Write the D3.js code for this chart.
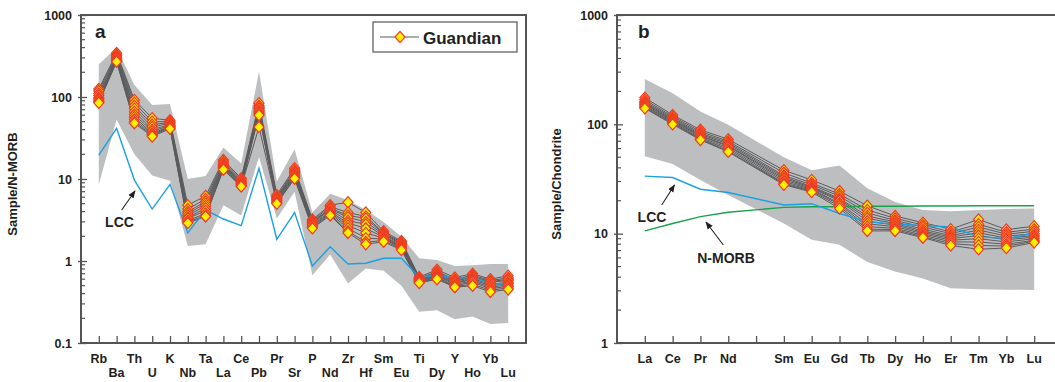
<!DOCTYPE html>
<html>
<head>
<meta charset="utf-8">
<script src="https://d3js.org/d3.v7.min.js"></script>
<style>
body { margin: 0; background: #fff; }
svg { display: block; font-family: "Liberation Sans", Arial, sans-serif; font-weight: bold; }
</style>
</head>
<body>
<script>
// ---- panel a : N-MORB normalised trace elements ----
var traceEls = ["Rb","Ba","Th","U","K","Nb","Ta","La","Ce","Pb","Pr","Sr","P","Nd","Zr","Hf","Sm","Eu","Ti","Dy","Y","Ho","Yb","Lu"];
var traceEnvUpper = [250,400,140,80,82,10,10.9,24.3,15.5,204,9.3,23,3.9,6.6,5.5,4.2,3.0,1.98,1.08,1.03,0.87,0.89,0.92,0.92];
var traceEnvLower = [8.5,53,20,11,9.5,1.52,1.6,4.8,3.6,18.6,3.3,7.0,0.67,1.2,0.53,0.81,0.76,0.5,0.24,0.25,0.195,0.21,0.17,0.175];
var traceLCC = [19.6,41.5,9.7,4.3,8.6,2.2,4.2,3.25,2.7,13.5,1.84,3.9,0.87,1.49,0.92,0.94,1.08,1.08,0.63,0.68,0.61,0.64,0.53,0.52];
var traceSamples = [
  [125,345,92,55,52,4.8,6.2,17,10.2,84,6.4,13.5,3.2,4.8,5.2,3.9,2.3,1.75,0.64,0.78,0.63,0.70,0.60,0.66],
  [118,330,85,50,50,4.3,5.7,16.2,9.8,78,6.1,12.8,3.1,4.6,3.9,3.5,2.2,1.7,0.62,0.74,0.60,0.67,0.58,0.62],
  [110,320,78,46,49,4.0,5.3,15.6,9.5,75,6.0,12.4,3.0,4.4,3.6,3.3,2.15,1.65,0.61,0.72,0.58,0.65,0.56,0.60],
  [104,310,72,43,48,3.8,5.0,15.0,9.2,72,5.8,12.0,2.95,4.3,3.4,3.0,2.1,1.6,0.60,0.70,0.57,0.63,0.55,0.58],
  [98,300,66,40,46,3.6,4.7,14.6,9.0,69,5.7,11.6,2.9,4.2,3.1,2.8,2.0,1.56,0.59,0.68,0.55,0.61,0.52,0.55],
  [95,295,61,38,45,3.4,4.4,14.2,8.8,66,5.5,11.2,2.8,4.0,2.9,2.5,1.95,1.52,0.58,0.66,0.54,0.59,0.50,0.53],
  [92,285,57,36,44,3.3,4.1,13.9,8.6,64,5.4,10.9,2.75,3.9,2.7,2.2,1.9,1.48,0.57,0.65,0.52,0.57,0.48,0.51],
  [89,280,53,35,43,3.1,3.8,13.6,8.4,62,5.2,10.6,2.65,3.8,2.5,1.9,1.85,1.44,0.56,0.63,0.50,0.55,0.46,0.49],
  [86,272,50,34,42,3.0,3.6,13.3,8.2,60,5.1,10.3,2.55,3.7,2.3,1.7,1.78,1.4,0.55,0.61,0.49,0.52,0.44,0.47],
  [85,270,48,33,41,2.9,3.5,13.0,8.1,43,5.0,10.1,2.5,3.6,2.2,1.6,1.72,1.36,0.54,0.60,0.48,0.50,0.42,0.45]
];
var traceTicks = [0.1,1,10,100,1000];

// ---- panel b : chondrite normalised REE ----
var reeAxis = ["La","Ce","Pr","Nd","Pm","Sm","Eu","Gd","Tb","Dy","Ho","Er","Tm","Yb","Lu"];
var reeEls = ["La","Ce","Pr","Nd","Sm","Eu","Gd","Tb","Dy","Ho","Er","Tm","Yb","Lu"];
var reeEnvUpper = [260,192,131,99,50,38,42,26,19.5,16.5,16,16.5,16.8,17];
var reeEnvLower = [51,43.4,31,22.6,12.4,8.8,7.9,5.5,4.5,3.9,3.16,3.1,3.07,3.05];
var reeLCC = [33.6,32.6,25.5,23.8,18.3,18.8,15.3,12.9,12.2,11.9,11.5,9.4,9.0,10.1];
var reeNMORB = [10.6,12.4,14.3,15.7,17.4,17.6,17.6,17.8,17.8,17.9,17.9,18,18,18];
var reeSamples = [
  [175,122,89,73,38,31,24.5,18,14.5,12.6,11,13.5,10.9,11.7],
  [168,118,86,70,36,29,23,16.5,13.8,12,10.4,12.2,10.3,11],
  [162,115,83,68,34,28,22,15.5,13.2,11.5,10,11.5,9.9,10.5],
  [158,112,81,66,33,27,21,14.5,12.8,11,9.6,10.8,9.5,10],
  [155,110,79,64,32,26.5,20.5,13.8,12.4,10.6,9.3,10.2,9.1,9.6],
  [152,108,78,63,31,26,20,13,12,10.3,9,9.6,8.8,9.3],
  [148,106,76,61,30,25.5,19,12.3,11.6,10,8.7,9,8.4,9],
  [145,104,74,59,29,25,18.5,11.6,11.2,9.7,8.4,8.4,8,8.7],
  [142,102,73,57,28.5,24.5,17.8,11,10.9,9.4,8.1,7.8,7.7,8.5],
  [140,100,72,56,28,24,17,10.6,10.6,9.2,7.8,7.2,7.4,8.3]
];
var reeTicks = [1,10,100,1000];

var W = 445, H = 328;
var ink = "#231f20", axisCol = "#555";
var diamond = "M0,-5.6L5,0L0,5.6L-5,0Z";

var svg = d3.select("body").append("svg").attr("width", 1055).attr("height", 382);

svg.append("defs").append("marker")
  .attr("id", "arrow").attr("viewBox", "0 0 10 10").attr("refX", 9).attr("refY", 5)
  .attr("markerWidth", 7).attr("markerHeight", 7).attr("orient", "auto")
  .append("path").attr("d", "M0,1L10,5L0,9Z").attr("fill", ink);

function drawPanel(left, o) {
  var g = svg.append("g").attr("transform", "translate(" + left + ",15)");
  var x = d3.scalePoint().domain(o.axisEls).range([0, W]).padding(1);
  var y = d3.scaleLog().domain(o.yDomain).range([H, 0]);

  // shaded envelope of other data
  var area = d3.area()
    .x(function(d, i) { return x(o.els[i]); })
    .y0(function(d, i) { return y(o.lower[i]); })
    .y1(function(d) { return y(d); });
  g.append("path").datum(o.upper).attr("d", area).attr("fill", "#bcbec0");

  var line = d3.line()
    .x(function(d, i) { return x(o.els[i]); })
    .y(function(d) { return y(d); });

  // sample lines
  g.selectAll(".sline").data(o.samples).join("path")
    .attr("d", line).attr("fill", "none").attr("stroke", "#5b5b5d").attr("stroke-width", 1);

  // reference curves
  o.refs.forEach(function(r) {
    g.append("path").datum(r.values).attr("d", line)
      .attr("fill", "none").attr("stroke", r.color).attr("stroke-width", 1.4);
  });

  // markers
  o.samples.forEach(function(s) {
    g.append("g").selectAll("path").data(s).join("path")
      .attr("d", diamond)
      .attr("transform", function(d, i) { return "translate(" + x(o.els[i]) + "," + y(d) + ")"; })
      .attr("fill", "#fff200").attr("stroke", "#ee3b24").attr("stroke-width", 1.2);
  });

  // frame
  g.append("rect").attr("width", W).attr("height", H)
    .attr("fill", "none").attr("stroke", axisCol).attr("stroke-width", 2);

  // x ticks (inward)
  var xa = g.append("g").attr("transform", "translate(0," + H + ")")
    .call(d3.axisBottom(x).tickSize(-7).tickSizeOuter(0).tickFormat(""));
  xa.select(".domain").remove();
  xa.selectAll("line").attr("stroke", axisCol).attr("stroke-width", 1.3);

  g.selectAll(".xl").data(o.axisEls).join("text")
    .attr("x", function(d) { return x(d); })
    .attr("y", function(d, i) { return H + (o.twoRows && i % 2 ? 34 : 19.5); })
    .attr("text-anchor", "middle").attr("font-size", 12.5).attr("fill", ink)
    .text(function(d) { return o.hide.indexOf(d) >= 0 ? "" : d; });

  // y axis: major ticks + labels
  var ya = g.append("g")
    .call(d3.axisLeft(y).tickValues(o.yTicks).tickSize(-6).tickSizeOuter(0).tickPadding(9)
      .tickFormat(function(d) { return d < 1 ? d3.format(".1f")(d) : d3.format("d")(d); }));
  ya.select(".domain").remove();
  ya.selectAll("line").attr("stroke", axisCol).attr("stroke-width", 1.3).attr("x1", 3);
  ya.selectAll("line").attr("x1", -3);
  ya.selectAll("text").attr("font-size", 12.5).attr("fill", ink)
    .attr("font-family", "Liberation Sans, Arial, sans-serif").attr("font-weight", "bold");

  // minor ticks
  var minors = y.ticks().filter(function(v) { return o.yTicks.indexOf(v) < 0; });
  g.selectAll(".minor").data(minors).join("line")
    .attr("x1", 0).attr("x2", 4)
    .attr("y1", function(d) { return y(d); }).attr("y2", function(d) { return y(d); })
    .attr("stroke", axisCol).attr("stroke-width", 1.2);

  // axis title
  g.append("text")
    .attr("transform", "translate(" + o.titleX + "," + (H / 2 + 5) + ") rotate(-90)")
    .attr("text-anchor", "middle").attr("font-size", 13).attr("fill", ink).text(o.title);

  // panel letter
  g.append("text").attr("x", o.letterX).attr("y", 23)
    .attr("font-size", 19).attr("fill", ink).text(o.letter);

  return g;
}

drawPanel(81, {
  axisEls: traceEls, els: traceEls, hide: [], twoRows: true,
  yDomain: [0.1, 1000], yTicks: traceTicks,
  upper: traceEnvUpper, lower: traceEnvLower,
  samples: traceSamples,
  refs: [{ values: traceLCC, color: "#1ba1e2" }],
  title: "Sample/N-MORB", titleX: -64, letter: "a", letterX: 14
});

drawPanel(617, {
  axisEls: reeAxis, els: reeEls, hide: ["Pm"], twoRows: false,
  yDomain: [1, 1000], yTicks: reeTicks,
  upper: reeEnvUpper, lower: reeEnvLower,
  samples: reeSamples,
  refs: [{ values: reeNMORB, color: "#1aa24b" }, { values: reeLCC, color: "#1ba1e2" }],
  title: "Sample/Chondrite", titleX: -56, letter: "b", letterX: 21
});

// legend (panel a)
var lg = svg.append("g");
lg.append("rect").attr("x", 373).attr("y", 22).attr("width", 144).attr("height", 30)
  .attr("fill", "#fff").attr("stroke", axisCol).attr("stroke-width", 1.2);
lg.append("line").attr("x1", 380).attr("x2", 419).attr("y1", 37).attr("y2", 37)
  .attr("stroke", "#5b5b5d").attr("stroke-width", 1);
lg.append("path").attr("d", diamond).attr("transform", "translate(400,37)")
  .attr("fill", "#fff200").attr("stroke", "#ee3b24").attr("stroke-width", 1.2);
lg.append("text").attr("x", 423).attr("y", 43.5).attr("font-size", 17).attr("fill", ink).text("Guandian");

// annotations
function note(tx, ty, label, x1, y1, x2, y2) {
  svg.append("text").attr("x", tx).attr("y", ty).attr("text-anchor", "middle")
    .attr("font-size", 14).attr("fill", ink).text(label);
  svg.append("line").attr("x1", x1).attr("y1", y1).attr("x2", x2).attr("y2", y2)
    .attr("stroke", ink).attr("stroke-width", 1.1).attr("marker-end", "url(#arrow)");
}
note(119.5, 227, "LCC", 121.7, 210, 135, 191);
note(652, 222, "LCC", 661.7, 205, 674.5, 185);
note(726, 263, "N-MORB", 723.3, 245, 706, 222);
</script>
</body>
</html>
